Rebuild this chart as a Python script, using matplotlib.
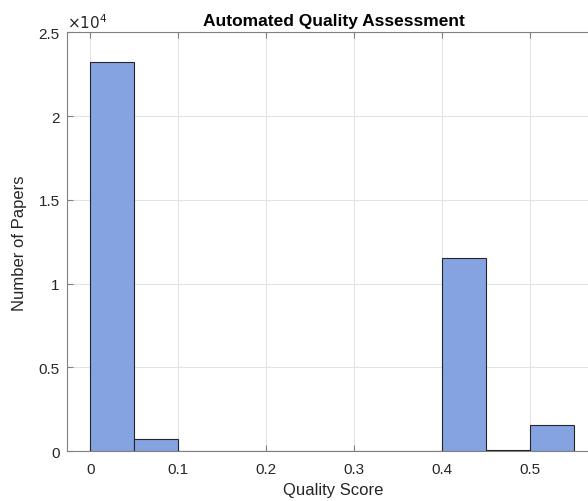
import matplotlib.pyplot as plt
from matplotlib.ticker import FuncFormatter

plt.rcParams['font.family'] = ['Liberation Sans', 'DejaVu Sans']

# Data: histogram bins of quality score (width 0.05) and counts
bin_edges = [0.0, 0.05, 0.10, 0.15, 0.20, 0.25, 0.30, 0.35, 0.40, 0.45, 0.50, 0.55]
counts = [23200, 750, 20, 20, 20, 20, 0, 0, 11560, 80, 1540]
x_ticks = [0, 0.1, 0.2, 0.3, 0.4, 0.5]
y_ticks = [0, 5000, 10000, 15000, 20000, 25000]

fig = plt.figure(figsize=(5.88, 5.02), dpi=100)
ax = fig.add_axes([0.1134, 0.099, 0.9077, 0.8347])

widths = [b - a for a, b in zip(bin_edges[:-1], bin_edges[1:])]
ax.bar(bin_edges[:-1], counts, width=widths, align='edge',
       color='#84A3E0', edgecolor='#262626', linewidth=0.8, zorder=3)

ax.set_xlim(-0.0269, 0.58)
ax.set_ylim(0, 25000)
ax.set_xticks(x_ticks)
ax.set_xticklabels(['%g' % v for v in x_ticks])
ax.set_yticks(y_ticks)
ax.yaxis.set_major_formatter(FuncFormatter(lambda v, p: '%g' % (v / 1e4)))

ax.grid(True, color='#E3E3E3', linewidth=0.8, zorder=0)
ax.set_axisbelow(True)
for s in ax.spines.values():
    s.set_color('#808080')
    s.set_linewidth(0.8)
ax.tick_params(direction='in', top=True, right=True, colors='#808080',
               labelcolor='#262626', labelsize=11, length=4)
ax.tick_params(axis='x', pad=8)
ax.tick_params(axis='y', pad=5)

ax.text(0.0, 1.003, r'$\times10^4$', transform=ax.transAxes, fontsize=11,
        color='#262626', ha='left', va='bottom')

ax.set_title('Automated Quality Assessment', fontsize=12.5, fontweight='bold',
             color='black', pad=5)
ax.set_xlabel('Quality Score', fontsize=12, color='#262626', labelpad=4)
ax.set_ylabel('Number of Papers', fontsize=12, color='#262626', labelpad=8)

plt.savefig('out.png', dpi=100)
